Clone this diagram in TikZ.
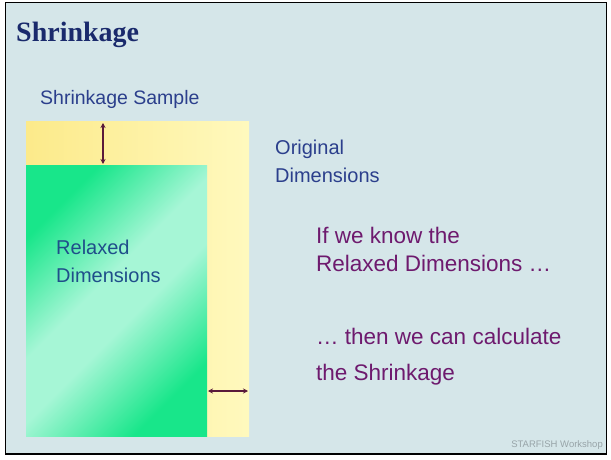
\documentclass[tikz,border=0pt]{standalone}
\usepackage{fontspec}
\setmainfont{Liberation Sans}
\newfontfamily\titlefont{Liberation Serif}
\usetikzlibrary{arrows.meta}
\definecolor{bgc}{HTML}{D5E6E9}
\definecolor{titlec}{HTML}{1A2A6C}
\definecolor{bluec}{HTML}{2B3F8C}
\definecolor{greentext}{HTML}{1F4E8A}
\definecolor{purplec}{HTML}{6E1A6E}
\definecolor{arrowc}{HTML}{5A1A3A}
\definecolor{yelA}{HTML}{FCEA8A}
\definecolor{yelB}{HTML}{FFF9BE}
\definecolor{grnA}{HTML}{18E68A}
\definecolor{grnB}{HTML}{A6F6D6}
\definecolor{greyc}{HTML}{98A4A8}
\pgfdeclareverticalshading{greenshade}{100bp}{color(0bp)=(grnA); color(26bp)=(grnA); color(45bp)=(grnB); color(55bp)=(grnB); color(74bp)=(grnA); color(100bp)=(grnA)}
\tikzset{
  lbl/.style={anchor=base west, inner sep=0pt, font=\fontsize{20}{24}\selectfont},
  bluetext/.style={lbl, text=bluec},
  purpletext/.style={anchor=base west, inner sep=0pt, font=\fontsize{22.5}{27}\selectfont, text=purplec},
  dimarrow/.style={draw=arrowc, line width=1.3pt, {Stealth[length=5pt,width=5pt]}-{Stealth[length=5pt,width=5pt]}},
}
\begin{document}
\begin{tikzpicture}[x=1pt,y=-1pt]
\useasboundingbox (0,0) rectangle (611,460);
\fill[white] (0,0) rectangle (611,460);
\fill[bgc] (5.5,2.5) rectangle (606.5,454);
% yellow original sample
\shade[left color=yelA, right color=yelB] (26,121) rectangle (249,436);
% green relaxed sample
\shade[shading=greenshade, shading angle=45] (26,165) rectangle (207,436);
\draw[black, line width=1.5pt] (5.5,2.5) rectangle (606.5,454);
% title
\node[anchor=base west, inner sep=0pt, font=\titlefont\bfseries\fontsize{28}{32}\selectfont, text=titlec] (title) at (16,42) {Shrinkage};
\node[bluetext, font=\fontsize{19.5}{24}\selectfont] (sample) at (40,104) {Shrinkage Sample};
\node[bluetext] (orig1) at (275,154) {Original};
\node[bluetext] (orig2) at (275,182) {Dimensions};
\node[lbl, text=greentext] (rel1) at (56,254) {Relaxed};
\node[lbl, text=greentext] (rel2) at (56,282) {Dimensions};
\node[purpletext] (p1) at (316,243) {If we know the};
\node[purpletext] (p2) at (316,271) {Relaxed Dimensions …};
\node[purpletext] (p3) at (316,344) {… then we can calculate};
\node[purpletext] (p4) at (316,380) {the Shrinkage};
\node[anchor=base east, inner sep=0pt, font=\fontsize{9.5}{11}\selectfont, text=greyc] (foot) at (603,447) {STARFISH Workshop};
% dimension arrows
\coordinate (vt) at (103,123);
\coordinate (vb) at (103,164);
\coordinate (hl) at (208,391);
\coordinate (hr) at (248,391);
\draw[dimarrow] (vt) -- (vb);
\draw[dimarrow] (hl) -- (hr);
\end{tikzpicture}
\end{document}
